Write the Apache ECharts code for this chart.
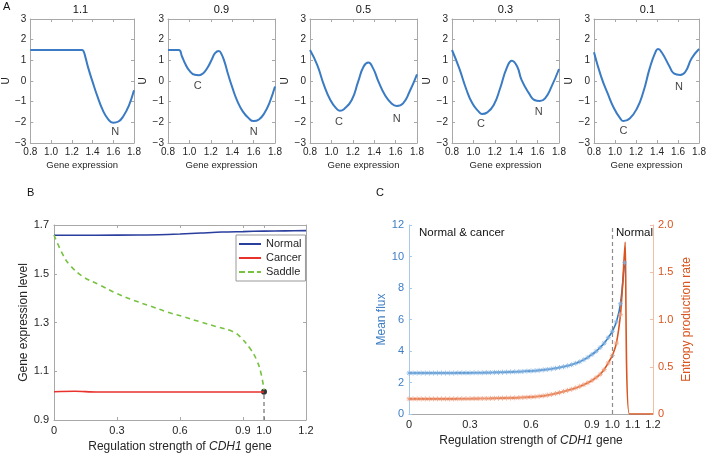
<!DOCTYPE html>
<html><head><meta charset="utf-8">
<script src="https://cdn.jsdelivr.net/npm/echarts@6/dist/echarts.min.js"></script>
<style>html,body{margin:0;padding:0;background:#fff}#c{width:709px;height:454px}</style>
</head><body><div id="c"></div>
<script>
// ---------------- DATA ----------------
// Panel A: potential landscapes U vs gene expression, for each regulation strength
const panelATitles = ['1.1', '0.9', '0.5', '0.3', '0.1'];
const land11X = [0.8, 0.9, 1.0, 1.1, 1.2, 1.3, 1.315, 1.33, 1.36, 1.4, 1.45, 1.5, 1.55, 1.6, 1.65, 1.7, 1.75, 1.8];
const land11U = [1.5, 1.5, 1.5, 1.5, 1.5, 1.5, 1.42, 1.18, 0.61, -0.03, -0.78, -1.42, -1.84, -2.02, -1.96, -1.68, -1.2, -0.45];
const land09X = [0.8, 0.9, 0.93, 0.96, 1.0, 1.05, 1.09, 1.13, 1.17, 1.21, 1.24, 1.275, 1.3, 1.33, 1.36, 1.4, 1.45, 1.5, 1.55, 1.6, 1.65, 1.7, 1.75, 1.8];
const land09U = [1.5, 1.5, 1.2, 0.85, 0.5, 0.3, 0.28, 0.38, 0.65, 1.05, 1.35, 1.45, 1.3, 0.9, 0.35, -0.3, -1.0, -1.48, -1.78, -1.94, -1.86, -1.56, -1.03, -0.27];
const land05X = [0.8, 0.868, 0.93, 0.99, 1.05, 1.08, 1.12, 1.19, 1.25, 1.3, 1.345, 1.39, 1.44, 1.5, 1.56, 1.61, 1.67, 1.73, 1.8];
const land05U = [1.5, 0.77, -0.19, -0.92, -1.35, -1.44, -1.35, -0.92, -0.03, 0.69, 0.89, 0.61, -0.03, -0.68, -1.08, -1.21, -1.08, -0.52, 0.32];
const land03X = [0.8, 0.868, 0.93, 0.99, 1.05, 1.08, 1.13, 1.19, 1.25, 1.31, 1.36, 1.41, 1.45, 1.52, 1.57, 1.62, 1.67, 1.73, 1.8];
const land03U = [1.5, 0.61, -0.35, -1.08, -1.48, -1.6, -1.52, -1.16, -0.35, 0.61, 0.98, 0.69, 0.05, -0.6, -0.92, -0.97, -0.84, -0.27, 0.58];
const land01X = [0.8, 0.868, 0.93, 0.99, 1.05, 1.08, 1.14, 1.21, 1.27, 1.33, 1.38, 1.41, 1.45, 1.52, 1.56, 1.62, 1.67, 1.73, 1.8];
const land01U = [1.39, 0.21, -0.6, -1.32, -1.81, -1.94, -1.81, -1.32, -0.52, 0.61, 1.34, 1.55, 1.34, 0.69, 0.37, 0.29, 0.45, 1.1, 1.55];
// state labels (C = cancer, N = normal) under the wells
const stateText = [['N'], ['C', 'N'], ['C', 'N'], ['C', 'N'], ['C', 'N']];
const stateX = [[1.62], [1.078, 1.6], [1.07, 1.61], [1.07, 1.61], [1.08, 1.61]];
const stateU = [[-2.48], [-0.23, -2.48], [-1.97, -1.84], [-2.1, -1.48], [-2.42, -0.27]];

// Panel B: steady states vs regulation strength
const bNormalX = [0, 0.2, 0.4, 0.5, 0.6, 0.7, 0.8, 0.9, 1.0, 1.1, 1.2];
const bNormal = [1.658, 1.658, 1.659, 1.66, 1.663, 1.667, 1.671, 1.673, 1.675, 1.676, 1.677];
const bCancerX = [0, 0.1, 0.2, 0.4, 0.6, 0.8, 1.0];
const bCancer = [1.016, 1.018, 1.015, 1.015, 1.015, 1.015, 1.015];
const bSaddleX = [0, 0.043, 0.075, 0.138, 0.218, 0.297, 0.377, 0.456, 0.536, 0.615, 0.695, 0.774, 0.854, 0.886, 0.933, 0.965, 0.986, 1.0];
const bSaddle = [1.659, 1.577, 1.536, 1.488, 1.454, 1.42, 1.392, 1.368, 1.344, 1.324, 1.303, 1.283, 1.262, 1.242, 1.194, 1.146, 1.091, 1.023];
const bBifurcation = [1.0, 1.016];

// Panel C: mean flux and entropy production rate
const cFluxX = [0, 0.02, 0.04, 0.06, 0.08, 0.1, 0.12, 0.14, 0.16, 0.18, 0.2, 0.22, 0.24, 0.26, 0.28, 0.3, 0.32, 0.34, 0.36, 0.38, 0.4, 0.42, 0.44, 0.46, 0.48, 0.5, 0.52, 0.54, 0.56, 0.58, 0.6, 0.62, 0.64, 0.66, 0.68, 0.7, 0.72, 0.74, 0.76, 0.78, 0.8, 0.82, 0.84, 0.86, 0.88, 0.9, 0.92, 0.94, 0.96, 0.98, 1.0, 1.02, 1.04, 1.06];
const cFlux = [2.6, 2.6, 2.6, 2.6, 2.6, 2.6, 2.6, 2.6, 2.6, 2.6, 2.6, 2.6, 2.61, 2.61, 2.61, 2.61, 2.62, 2.62, 2.62, 2.63, 2.63, 2.64, 2.64, 2.65, 2.66, 2.67, 2.68, 2.69, 2.7, 2.72, 2.73, 2.75, 2.77, 2.8, 2.83, 2.86, 2.9, 2.95, 3.0, 3.06, 3.13, 3.22, 3.32, 3.45, 3.6, 3.78, 3.98, 4.22, 4.5, 4.85, 5.25, 5.85, 7.0, 9.6];
const cEprX = [0, 0.02, 0.04, 0.06, 0.08, 0.1, 0.12, 0.14, 0.16, 0.18, 0.2, 0.22, 0.24, 0.26, 0.28, 0.3, 0.32, 0.34, 0.36, 0.38, 0.4, 0.42, 0.44, 0.46, 0.48, 0.5, 0.52, 0.54, 0.56, 0.58, 0.6, 0.62, 0.64, 0.66, 0.68, 0.7, 0.72, 0.74, 0.76, 0.78, 0.8, 0.82, 0.84, 0.86, 0.88, 0.9, 0.92, 0.94, 0.96, 0.98, 1.0, 1.02, 1.04, 1.05, 1.063, 1.084, 1.2];
const cEpr = [0.16, 0.16, 0.16, 0.16, 0.16, 0.16, 0.16, 0.16, 0.16, 0.16, 0.16, 0.16, 0.161, 0.161, 0.162, 0.162, 0.163, 0.163, 0.164, 0.164, 0.165, 0.166, 0.167, 0.168, 0.169, 0.17, 0.171, 0.173, 0.175, 0.177, 0.18, 0.183, 0.187, 0.192, 0.199, 0.207, 0.216, 0.226, 0.238, 0.25, 0.262, 0.276, 0.292, 0.31, 0.331, 0.355, 0.385, 0.42, 0.47, 0.54, 0.62, 0.75, 1.05, 1.35, 1.82, 0, 0];
const cThreshold = 1.0;

// ---------------- LAYOUT / STYLE ----------------
const FONT = 'Liberation Sans, Arial, Helvetica, sans-serif';
const frame = '#a8a8a8', txt = '#262626';
const blueA = '#3a7bc4';
const fmtMinus = v => (v < 0 ? '\u2212' + Math.abs(v) : String(v));
const fmt1 = v => (v === 0 ? '0' : v.toFixed(1));
const aLeft = [27, 168, 310, 452, 594], aW = 107, aTop = 19, aH = 124;

const grids = [], xAxes = [], yAxes = [], series = [], graphics = [];
const zip = (xs, ys) => xs.map((x, i) => [x, ys[i]]);
const landX = [land11X, land09X, land05X, land03X, land01X];
const landU = [land11U, land09U, land05U, land03U, land01U];

function boxAxis(extra) {
  return Object.assign({
    type: 'value', splitLine: { show: false },
    axisLine: { show: true, onZero: false, lineStyle: { color: frame, width: 1 } },
    axisTick: { show: true, inside: true, length: 3, lineStyle: { color: frame } },
    axisLabel: { fontFamily: FONT, color: txt }
  }, extra);
}

for (let i = 0; i < 5; i++) {
  grids.push({ left: aLeft[i], top: aTop, width: aW, height: aH });
  xAxes.push(boxAxis({ gridIndex: i, position: 'bottom', min: 0.8, max: 1.8, interval: 0.2,
    axisLabel: { fontFamily: FONT, color: txt, fontSize: 10, margin: 4, formatter: v => v.toFixed(1) },
    name: 'Gene expression', nameLocation: 'middle', nameGap: 17,
    nameTextStyle: { fontFamily: FONT, fontSize: 9.5, color: txt } }));
  xAxes.push(boxAxis({ gridIndex: i, position: 'top', min: 0.8, max: 1.8, interval: 0.2, axisLabel: { show: false } }));
  yAxes.push(boxAxis({ gridIndex: i, position: 'left', min: -3, max: 3, interval: 1,
    axisLabel: { fontFamily: FONT, color: txt, fontSize: 10, margin: 4, formatter: fmtMinus },
    name: 'U', nameLocation: 'middle', nameGap: 16, nameRotate: 90,
    nameTextStyle: { fontFamily: FONT, fontSize: 10, color: txt } }));
  yAxes.push(boxAxis({ gridIndex: i, position: 'right', min: -3, max: 3, interval: 1, axisLabel: { show: false } }));
  series.push({ type: 'line', xAxisIndex: 2 * i, yAxisIndex: 2 * i, data: zip(landX[i], landU[i]),
    smooth: 0.5, showSymbol: false, symbol: 'none', silent: true,
    lineStyle: { color: blueA, width: 2 } });
  series.push({ type: 'scatter', xAxisIndex: 2 * i, yAxisIndex: 2 * i, symbolSize: 0, silent: true,
    data: stateText[i].map((t, k) => [stateX[i][k], stateU[i][k], t]),
    label: { show: true, position: 'inside', formatter: p => p.value[2], fontFamily: FONT, fontSize: 11, color: '#111' } });
  graphics.push({ type: 'text', x: aLeft[i] + aW / 2, y: 4,
    style: { text: panelATitles[i], font: '11px ' + FONT, fill: '#111', textAlign: 'center' } });
}

// Panel B (grid 5)
grids.push({ left: 54, top: 225, width: 252, height: 195 });
const bXTicks = [0, 0.3, 0.6, 0.9, 1.0, 1.2];
const bYTicks = [0.9, 1.1, 1.3, 1.5, 1.7];
xAxes.push(boxAxis({ gridIndex: 5, position: 'bottom', min: 0, max: 1.2,
  axisLabel: { fontFamily: FONT, color: txt, fontSize: 11, margin: 5, customValues: bXTicks, formatter: fmt1 },
  axisTick: { show: true, inside: true, length: 3, customValues: bXTicks, lineStyle: { color: frame } },
  name: 'Regulation strength of {i|CDH1} gene', nameLocation: 'middle', nameGap: 21,
  nameTextStyle: { fontFamily: FONT, fontSize: 12, color: txt, rich: { i: { fontStyle: 'italic', fontFamily: FONT, fontSize: 12, color: txt } } } }));
xAxes.push(boxAxis({ gridIndex: 5, position: 'top', min: 0, max: 1.2, axisLabel: { show: false, customValues: bXTicks },
  axisTick: { show: true, inside: true, length: 3, customValues: bXTicks, lineStyle: { color: frame } } }));
yAxes.push(boxAxis({ gridIndex: 5, position: 'left', min: 0.9, max: 1.7,
  axisLabel: { fontFamily: FONT, color: txt, fontSize: 11, margin: 5, customValues: bYTicks, formatter: v => v.toFixed(1) },
  axisTick: { show: true, inside: true, length: 3, customValues: bYTicks, lineStyle: { color: frame } },
  name: 'Gene expression level', nameLocation: 'middle', nameGap: 21, nameRotate: 90,
  nameTextStyle: { fontFamily: FONT, fontSize: 12, color: txt } }));
yAxes.push(boxAxis({ gridIndex: 5, position: 'right', min: 0.9, max: 1.7, axisLabel: { show: false, customValues: bYTicks },
  axisTick: { show: true, inside: true, length: 3, customValues: bYTicks, lineStyle: { color: frame } } }));
series.push({ name: 'Normal', type: 'line', xAxisIndex: 10, yAxisIndex: 10, data: zip(bNormalX, bNormal),
  symbol: 'none', smooth: 0.3, color: '#2a3e9e', lineStyle: { color: '#2a3e9e', width: 1.6 } });
series.push({ name: 'Cancer', type: 'line', xAxisIndex: 10, yAxisIndex: 10, data: zip(bCancerX, bCancer),
  symbol: 'none', smooth: 0.3, color: '#e8322b', lineStyle: { color: '#e8322b', width: 1.6 } });
series.push({ name: 'Saddle', type: 'line', xAxisIndex: 10, yAxisIndex: 10, data: zip(bSaddleX, bSaddle),
  symbol: 'none', smooth: 0.4, color: '#78c241', lineStyle: { color: '#78c241', width: 1.6, type: [5, 4] } });
series.push({ type: 'line', xAxisIndex: 10, yAxisIndex: 10, symbol: 'none', silent: true,
  data: [[bBifurcation[0], 0.9], bBifurcation], lineStyle: { color: '#555', width: 1, type: [4, 3] } });
series.push({ type: 'scatter', xAxisIndex: 10, yAxisIndex: 10, symbolSize: 6, silent: true,
  data: [bBifurcation], itemStyle: { color: '#000' } });

// Panel C (grid 6)
const cBlue = '#2f78c2', cOrange = '#d9541e';
const cXTicks = [0, 0.3, 0.6, 0.9, 1.0, 1.1, 1.2];
grids.push({ left: 409, top: 225, width: 244, height: 189 });
xAxes.push(boxAxis({ gridIndex: 6, position: 'bottom', min: 0, max: 1.2,
  axisLabel: { fontFamily: FONT, color: txt, fontSize: 11, margin: 5, customValues: cXTicks, formatter: fmt1 },
  axisTick: { show: false, customValues: cXTicks },
  name: 'Regulation strength of {i|CDH1} gene', nameLocation: 'middle', nameGap: 21,
  nameTextStyle: { fontFamily: FONT, fontSize: 12, color: txt, rich: { i: { fontStyle: 'italic', fontFamily: FONT, fontSize: 12, color: txt } } } }));
yAxes.push(boxAxis({ gridIndex: 6, position: 'left', min: 0, max: 12, interval: 2,
  axisLine: { show: true, onZero: false, lineStyle: { color: '#a9c9ea' } },
  axisTick: { show: true, inside: true, length: 3, lineStyle: { color: '#a9c9ea' } },
  axisLabel: { fontFamily: FONT, color: '#3d7ec3', fontSize: 11, margin: 5 },
  name: 'Mean flux', nameLocation: 'middle', nameGap: 20, nameRotate: 90,
  nameTextStyle: { fontFamily: FONT, fontSize: 12, color: '#3d7ec3' } }));
yAxes.push(boxAxis({ gridIndex: 6, position: 'right', min: 0, max: 2, interval: 0.5,
  axisLine: { show: true, onZero: false, lineStyle: { color: '#f2bfa6' } },
  axisTick: { show: true, inside: true, length: 3, lineStyle: { color: '#f2bfa6' } },
  axisLabel: { fontFamily: FONT, color: cOrange, fontSize: 11, margin: 5, formatter: fmt1 },
  name: 'Entropy production rate', nameLocation: 'middle', nameGap: 28, nameRotate: 90,
  nameTextStyle: { fontFamily: FONT, fontSize: 12, color: cOrange } }));
const star = 'path://M5,0L5,10M0,5L10,5M1.5,1.5L8.5,8.5M1.5,8.5L8.5,1.5';
series.push({ type: 'line', xAxisIndex: 12, yAxisIndex: 12, data: zip(cFluxX, cFlux), silent: true,
  symbol: star, symbolSize: 5, showSymbol: true, smooth: 0.3,
  itemStyle: { color: 'rgba(0,0,0,0)', borderColor: '#7fb0e0', borderWidth: 0.8 },
  lineStyle: { color: cBlue, width: 1.6 },
  markLine: { silent: true, symbol: 'none', label: { show: false }, data: [{ xAxis: cThreshold }],
    lineStyle: { color: '#8c8c8c', type: [4, 3], width: 1.2 } } });
series.push({ type: 'line', xAxisIndex: 12, yAxisIndex: 13, silent: true, smooth: 0.2,
  data: cEprX.map((x, i) => x <= 1.04 ? [x, cEpr[i]] : { value: [x, cEpr[i]], symbol: 'none' }),
  symbol: star, symbolSize: 5, showSymbol: true,
  itemStyle: { color: 'rgba(0,0,0,0)', borderColor: '#ef9a78', borderWidth: 0.8 },
  lineStyle: { color: cOrange, width: 1.6 } });

graphics.push({ type: 'text', left: 3, top: 1, style: { text: 'A', font: '11px ' + FONT, fill: '#111' } });
graphics.push({ type: 'text', left: 27, top: 187, style: { text: 'B', font: '11px ' + FONT, fill: '#111' } });
graphics.push({ type: 'text', left: 376, top: 187, style: { text: 'C', font: '11px ' + FONT, fill: '#111' } });
graphics.push({ type: 'text', left: 419, top: 227, style: { text: 'Normal & cancer', font: '11.5px ' + FONT, fill: '#111' } });
graphics.push({ type: 'text', left: 616, top: 227, style: { text: 'Normal', font: '11.5px ' + FONT, fill: '#111' } });

const lineIcon = 'path://M0,0H22V2H0Z';
const dashIcon = 'path://M0,0H6V2H0Z M9,0H15V2H9Z M18,0H22V2H18Z';
const chart = echarts.init(document.getElementById('c'), null, { renderer: 'canvas' });
chart.setOption({
  animation: false,
  backgroundColor: '#fff',
  grid: grids, xAxis: xAxes, yAxis: yAxes, series: series, graphic: graphics,
  legend: { data: [{ name: 'Normal', icon: lineIcon }, { name: 'Cancer', icon: lineIcon }, { name: 'Saddle', icon: dashIcon }],
    orient: 'vertical', left: 236, top: 235,
    backgroundColor: '#fff', borderColor: '#999', borderWidth: 1, padding: [3, 4, 3, 3],
    itemGap: 2, itemWidth: 22, itemHeight: 2,
    textStyle: { fontFamily: FONT, fontSize: 11, color: txt, lineHeight: 12 } }
});
</script></body></html>
